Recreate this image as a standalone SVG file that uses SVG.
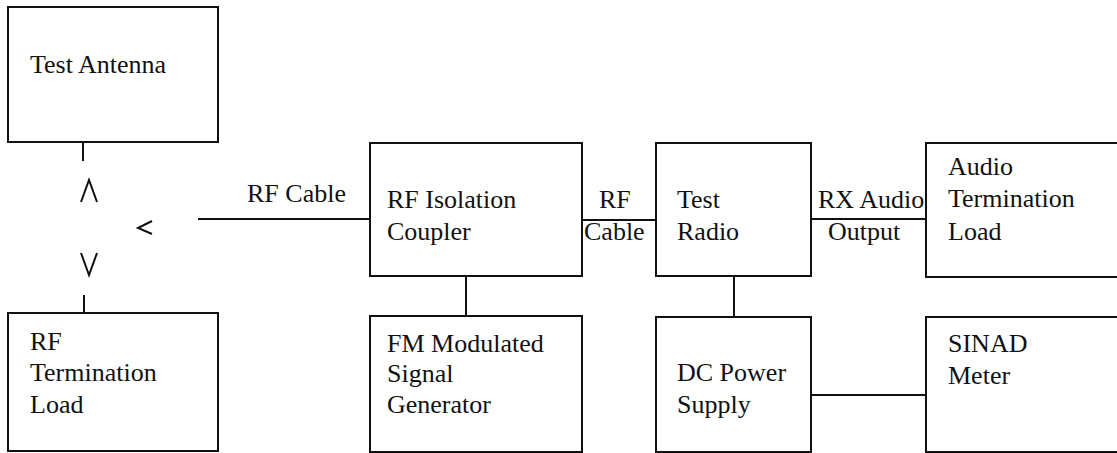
<svg xmlns="http://www.w3.org/2000/svg" width="1117" height="453" viewBox="0 0 1117 453">
<style>
.box{fill:#fff;stroke:#111;stroke-width:2}
.ln{stroke:#111;stroke-width:2;fill:none}
.ch{stroke:#111;stroke-width:2;fill:none;stroke-linejoin:miter}
text{font-family:"Liberation Serif","Times New Roman",serif;font-size:26px;fill:#111}
</style>
<rect width="1117" height="453" fill="#fff"/>
<g id="connectors">
<line class="ln" x1="83" y1="142" x2="83" y2="161"/>
<line class="ln" x1="84" y1="295" x2="84" y2="313"/>
<polyline class="ch" points="81,202 89,180 97,202"/>
<polyline class="ch" points="152,221 138,228 152,234"/>
<polyline class="ch" points="81,253 89,275 97,253"/>
<line class="ln" x1="198" y1="219" x2="370" y2="219"/>
<line class="ln" x1="466" y1="276" x2="466" y2="316"/>
<line class="ln" x1="582" y1="220" x2="656" y2="220"/>
<line class="ln" x1="734" y1="276" x2="734" y2="317"/>
<line class="ln" x1="811" y1="219" x2="926" y2="219"/>
<line class="ln" x1="811" y1="395" x2="926" y2="395"/>
<text x="247" y="202">RF Cable</text>
<text x="599" y="208">RF</text>
<text x="584" y="240">Cable</text>
<text x="818" y="208">RX Audio</text>
<text x="828" y="240">Output</text>
</g>
<g id="test-antenna">
<rect class="box" x="8" y="7" width="210" height="135"/>
<text x="30" y="73">Test Antenna</text>
</g>
<g id="rf-termination-load">
<rect class="box" x="8" y="313" width="210" height="138"/>
<text x="30" y="350">RF</text>
<text x="30" y="381">Termination</text>
<text x="30" y="413">Load</text>
</g>
<g id="rf-isolation-coupler">
<rect class="box" x="370" y="143" width="212" height="133"/>
<text x="387" y="208">RF Isolation</text>
<text x="387" y="240">Coupler</text>
</g>
<g id="fm-signal-generator">
<rect class="box" x="370" y="316" width="212" height="136"/>
<text x="387" y="352">FM Modulated</text>
<text x="387" y="382">Signal</text>
<text x="387" y="413">Generator</text>
</g>
<g id="test-radio">
<rect class="box" x="656" y="143" width="155" height="133"/>
<text x="677" y="208">Test</text>
<text x="677" y="240">Radio</text>
</g>
<g id="dc-power-supply">
<rect class="box" x="656" y="317" width="155" height="135"/>
<text x="677" y="381">DC Power</text>
<text x="677" y="413">Supply</text>
</g>
<g id="audio-termination-load">
<rect class="box" x="926" y="143" width="200" height="134"/>
<text x="948" y="175">Audio</text>
<text x="948" y="207">Termination</text>
<text x="948" y="240">Load</text>
</g>
<g id="sinad-meter">
<rect class="box" x="926" y="317" width="200" height="135"/>
<text x="948" y="352">SINAD</text>
<text x="948" y="384">Meter</text>
</g>
</svg>
